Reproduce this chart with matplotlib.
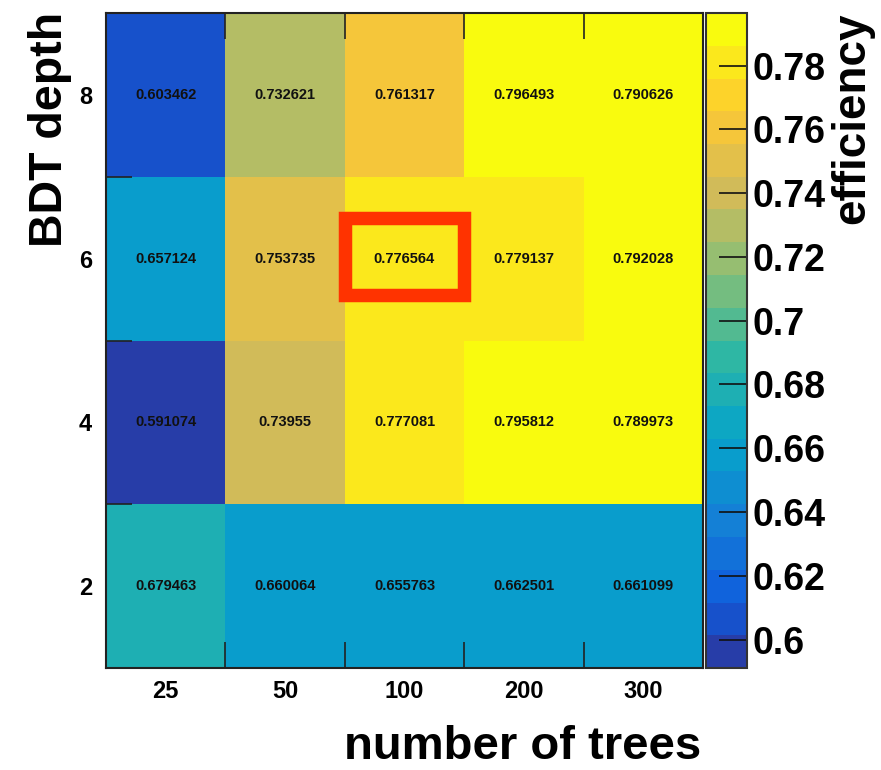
import numpy as np
import matplotlib
matplotlib.use("Agg")
import matplotlib.pyplot as plt
from matplotlib.colors import LinearSegmentedColormap, ListedColormap, BoundaryNorm
from matplotlib.patches import Rectangle
import matplotlib.cm as cm

plt.rcParams["font.family"] = ["Liberation Sans", "DejaVu Sans"]
plt.rcParams["font.weight"] = "bold"

# --- data -------------------------------------------------------------
n_trees = ["25", "50", "100", "200", "300"]
depths = ["2", "4", "6", "8"]
eff_depth2 = [0.679463, 0.660064, 0.655763, 0.662501, 0.661099]
eff_depth4 = [0.591074, 0.73955, 0.777081, 0.795812, 0.789973]
eff_depth6 = [0.657124, 0.753735, 0.776564, 0.779137, 0.792028]
eff_depth8 = [0.603462, 0.732621, 0.761317, 0.796493, 0.790626]
cbar_ticks = [0.60, 0.62, 0.64, 0.66, 0.68, 0.70, 0.72, 0.74, 0.76, 0.78]
chosen = ("100", "6")  # highlighted working point

grid = np.array([eff_depth2, eff_depth4, eff_depth6, eff_depth8])

# --- "bird" palette with 20 contour levels ----------------------------
stops = [0.0, 0.125, 0.25, 0.375, 0.5, 0.625, 0.75, 0.875, 1.0]
red = [0.2082, 0.0592, 0.0780, 0.0232, 0.1802, 0.5301, 0.8186, 0.9956, 0.9764]
green = [0.1664, 0.3599, 0.5041, 0.6419, 0.7178, 0.7492, 0.7328, 0.7862, 0.9832]
blue = [0.5293, 0.8684, 0.8385, 0.7914, 0.6425, 0.4662, 0.3499, 0.1968, 0.0539]
bird = LinearSegmentedColormap.from_list(
    "bird", list(zip(stops, zip(red, green, blue))), N=255)
ncont = 20
palette = bird(np.arange(255) / 254.0)
band_cols = [palette[min(254, int((i + 0.99) * 255 / ncont))] for i in range(ncont)]
cmap = ListedColormap(band_cols)
cmap = cmap.with_extremes(over=band_cols[-1], under=band_cols[0])

vmin, vmax = grid.min(), grid.max()
levels = np.linspace(vmin, vmax, ncont + 1)
norm = BoundaryNorm(levels, cmap.N)

# --- figure -----------------------------------------------------------
W, H = 881, 770
fig = plt.figure(figsize=(W / 100, H / 100), dpi=100)
ax = fig.add_axes([106 / W, 1 - 668 / H, (703 - 106) / W, (668 - 13) / H])
cax = fig.add_axes([706 / W, 1 - 668 / H, (747 - 706) / W, (668 - 13) / H])

x_edges = np.arange(len(n_trees) + 1)
y_edges = np.array([1, 3, 5, 7, 9])
ax.pcolormesh(x_edges, y_edges, grid, cmap=cmap, norm=norm,
              edgecolors="none", antialiased=False)

xc = (x_edges[:-1] + x_edges[1:]) / 2
yc = (y_edges[:-1] + y_edges[1:]) / 2
for j, yy in enumerate(yc):
    for i, xx in enumerate(xc):
        ax.text(xx, yy, "%g" % grid[j, i], ha="center", va="center",
                fontsize=10.5, fontweight="bold", color="#111111")

ax.set_xlim(x_edges[0], x_edges[-1])
ax.set_ylim(y_edges[0], y_edges[-1])

ax.set_xticks(xc)
ax.set_xticklabels(n_trees)
ax.set_yticks(yc)
ax.set_yticklabels(depths)
ax.set_xticks(x_edges, minor=True)
ax.set_yticks(y_edges, minor=True)
ax.tick_params(which="major", length=0, labelsize=17, pad=9)
ax.tick_params(axis="y", which="major", pad=10)
ax.tick_params(which="minor", direction="in", length=19, width=1.2,
               color="#222222", top=True, bottom=True, left=True, right=False)
for s in ax.spines.values():
    s.set_linewidth(1.5)
    s.set_color("#222222")

# highlighted cell
ix = n_trees.index(chosen[0])
iy = depths.index(chosen[1])
ax.add_patch(Rectangle((x_edges[ix], yc[iy] - 0.45), 1.0, 0.95,
                       fill=False, edgecolor="#ff3300", linewidth=9.7,
                       joinstyle="miter", zorder=5))

# colour scale
sm = cm.ScalarMappable(norm=norm, cmap=cmap)
cb = fig.colorbar(sm, cax=cax, ticks=cbar_ticks)
cb.ax.set_yticklabels(["%g" % t for t in cbar_ticks])
cb.ax.tick_params(direction="in", length=20, width=1.2, labelsize=27, pad=4,
                  color="#111111")
cb.ax.minorticks_off()
cb.outline.set_linewidth(1.5)
cb.outline.set_edgecolor("#333333")

fig.text(50 / W, 1 - 12 / H, "BDT depth", rotation=90, ha="center", va="top",
         fontsize=33.5, fontweight="bold")
fig.text(852 / W, 1 - 13 / H, "efficiency", rotation=90, ha="center", va="top",
         fontsize=33, fontweight="bold")
fig.text(701 / W, 1 - 769 / H, "number of trees", ha="right", va="bottom",
         fontsize=34, fontweight="bold")

fig.savefig("out.png", dpi=100)
